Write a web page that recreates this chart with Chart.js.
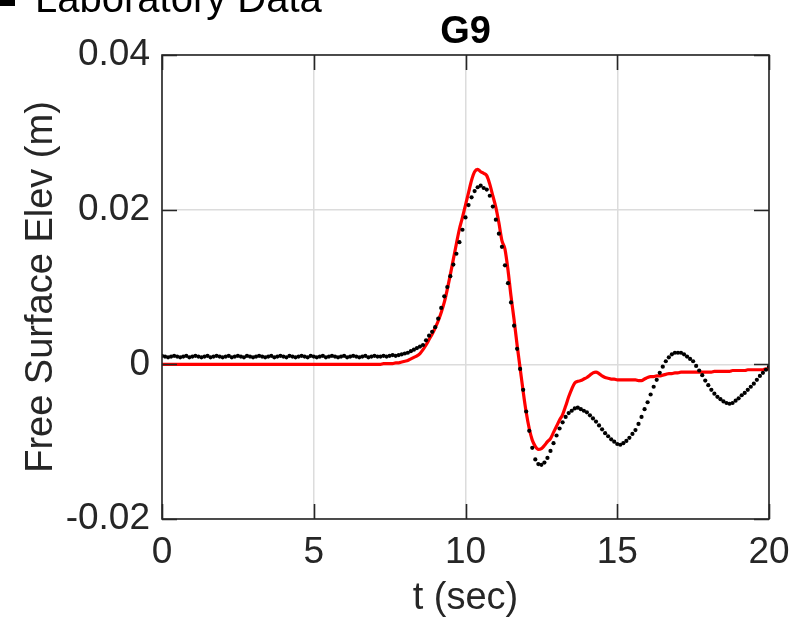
<!DOCTYPE html>
<html>
<head>
<meta charset="utf-8">
<title>G9</title>
<script src="https://cdn.jsdelivr.net/npm/chart.js@4.4.1/dist/chart.umd.min.js"></script>
<style>
  html, body { margin: 0; padding: 0; background: #fff; }
  #wrap { position: relative; width: 794px; height: 626px; }
</style>
</head>
<body>
<div id="wrap"><canvas id="chartG9"></canvas></div>
<script>
// gauge G9 — free surface elevation, 0.1 s sampling
const DT = 0.1;

const xTicks = [0, 5, 10, 15, 20];
const yTicks = [-0.02, 0, 0.02, 0.04];

// laboratory record (black dots)
const labElev = [
  0.0011, 0.0010, 0.0009, 0.0010, 0.0011, 0.0010, 0.0009, 0.0010, 0.0011, 0.0009,
  0.0010, 0.0011, 0.0010, 0.0009, 0.0010, 0.0011, 0.0009, 0.0010, 0.0011, 0.0010,
  0.0009, 0.0010, 0.0011, 0.0009, 0.0010, 0.0011, 0.0010, 0.0009, 0.0011, 0.0010,
  0.0009, 0.0010, 0.0011, 0.0010, 0.0009, 0.0010, 0.0011, 0.0009, 0.0010, 0.0011,
  0.0010, 0.0009, 0.0011, 0.0010, 0.0009, 0.0010, 0.0011, 0.0010, 0.0009, 0.0011,
  0.0010, 0.0009, 0.0010, 0.0011, 0.0009, 0.0010, 0.0011, 0.0010, 0.0009, 0.0010,
  0.0011, 0.0009, 0.0010, 0.0011, 0.0010, 0.0009, 0.0010, 0.0011, 0.0009, 0.0010,
  0.0011, 0.0010, 0.0010, 0.0011, 0.0010, 0.0011, 0.0012, 0.0011, 0.0012, 0.0013,
  0.0014, 0.0015, 0.0017, 0.0019, 0.0021, 0.0023, 0.0025, 0.0031, 0.0037, 0.0042,
  0.0048, 0.0059, 0.0073, 0.0088, 0.0100, 0.0114, 0.0129, 0.0143, 0.0158, 0.0174,
  0.0190, 0.0206, 0.0216, 0.0224, 0.0229, 0.0231, 0.0228, 0.0226, 0.0218, 0.0204,
  0.0187, 0.0169, 0.0152, 0.0128, 0.0105, 0.0080, 0.0050, 0.0020, -0.0006, -0.0033,
  -0.0061, -0.0086, -0.0108, -0.0123, -0.0129, -0.0130, -0.0127, -0.0121, -0.0112, -0.0102,
  -0.0092, -0.0083, -0.0075, -0.0068, -0.0063, -0.0060, -0.0057, -0.0056, -0.0058, -0.0060,
  -0.0062, -0.0066, -0.0070, -0.0074, -0.0079, -0.0084, -0.0089, -0.0093, -0.0097, -0.0100,
  -0.0103, -0.0104, -0.0102, -0.0099, -0.0095, -0.0090, -0.0085, -0.0077, -0.0068, -0.0058,
  -0.0049, -0.0039, -0.0029, -0.0020, -0.0011, -0.0003, 0.0004, 0.0009, 0.0013, 0.0015,
  0.0015, 0.0015, 0.0013, 0.0010, 0.0007, 0.0004, -0.0002, -0.0008, -0.0014, -0.0021,
  -0.0027, -0.0033, -0.0038, -0.0042, -0.0045, -0.0048, -0.0050, -0.0051, -0.0050, -0.0047,
  -0.0044, -0.0040, -0.0037, -0.0033, -0.0029, -0.0025, -0.0020, -0.0015, -0.0011, -0.0007,
  -0.0003
];

// numerical model (red line)
const modelElev = [
  0, 0, 0, 0, 0, 0, 0, 0, 0, 0,
  0, 0, 0, 0, 0, 0, 0, 0, 0, 0,
  0, 0, 0, 0, 0, 0, 0, 0, 0, 0,
  0, 0, 0, 0, 0, 0, 0, 0, 0, 0,
  0, 0, 0, 0, 0, 0, 0, 0, 0, 0,
  0, 0, 0, 0, 0, 0, 0, 0, 0, 0,
  0, 0, 0, 0, 0, 0, 0, 0, 0, 0,
  0.0000, 0.0000, 0.0000, 0.0001, 0.0001, 0.0001, 0.0001, 0.0002, 0.0002, 0.0003,
  0.0004, 0.0005, 0.0007, 0.0009, 0.0011, 0.0014, 0.0019, 0.0025, 0.0032, 0.0039,
  0.0047, 0.0056, 0.0067, 0.0080, 0.0097, 0.0116, 0.0136, 0.0156, 0.0175, 0.0190,
  0.0206, 0.0222, 0.0238, 0.0249, 0.0252, 0.0249, 0.0247, 0.0244, 0.0233, 0.0218,
  0.0203, 0.0183, 0.0160, 0.0149, 0.0122, 0.0088, 0.0058, 0.0025, -0.0005, -0.0035,
  -0.0062, -0.0083, -0.0098, -0.0106, -0.0110, -0.0109, -0.0105, -0.0100, -0.0096, -0.0088,
  -0.0080, -0.0072, -0.0065, -0.0054, -0.0042, -0.0032, -0.0024, -0.0022, -0.0021, -0.0019,
  -0.0017, -0.0014, -0.0011, -0.0010, -0.0012, -0.0015, -0.0017, -0.0018, -0.0019, -0.0019,
  -0.0020, -0.0020, -0.0020, -0.0020, -0.0020, -0.0020, -0.0020, -0.0021, -0.0021, -0.0019,
  -0.0017, -0.0016, -0.0016, -0.0015, -0.0015, -0.0014, -0.0013, -0.0012, -0.0012, -0.0011,
  -0.0011, -0.0010, -0.0010, -0.0010, -0.0010, -0.0010, -0.0010, -0.0010, -0.0010, -0.0010,
  -0.0010, -0.0010, -0.0009, -0.0009, -0.0009, -0.0009, -0.0009, -0.0009, -0.0008, -0.0008,
  -0.0008, -0.0008, -0.0008, -0.0007, -0.0007, -0.0007, -0.0007, -0.0007, -0.0007, -0.0006,
  -0.0006
];

const AXIS_COLOR = '#262626';
const GRID_COLOR = '#dcdcdc';
const FONT = 'Arial, "Liberation Sans", Helvetica, sans-serif';

const toPoints = arr => arr.map((v, i) => ({ x: i * DT, y: v }));

// box around the plot with inward tick marks on all four sides,
// plus the plot title and the legend entry clipped at the top edge
const boxAxes = {
  id: 'boxAxes',
  afterDatasetsDraw(chart) {
    const { ctx, chartArea: a, scales: { x, y } } = chart;
    const tl = 15;
    ctx.save();
    ctx.strokeStyle = AXIS_COLOR;
    ctx.lineWidth = 1.6;
    ctx.beginPath();
    xTicks.forEach(v => {
      const px = Math.round(x.getPixelForValue(v)) + 0.5;
      ctx.moveTo(px, a.bottom); ctx.lineTo(px, a.bottom - tl);
      ctx.moveTo(px, a.top); ctx.lineTo(px, a.top + tl);
    });
    yTicks.forEach(v => {
      const py = Math.round(y.getPixelForValue(v)) + 0.5;
      ctx.moveTo(a.left, py); ctx.lineTo(a.left + tl, py);
      ctx.moveTo(a.right, py); ctx.lineTo(a.right - tl, py);
    });
    ctx.stroke();
    ctx.strokeRect(a.left, a.top, a.right - a.left, a.bottom - a.top);
    ctx.restore();
  },
  afterDraw(chart) {
    const { ctx, chartArea: a } = chart;
    ctx.save();
    ctx.fillStyle = '#000';
    ctx.font = 'bold 38px ' + FONT;
    ctx.textAlign = 'center';
    ctx.textBaseline = 'alphabetic';
    ctx.fillText('G9', (a.left + a.right) / 2, 43);

    ctx.fillRect(0, 0, 15, 6);
    ctx.font = '40px ' + FONT;
    ctx.textAlign = 'left';
    ctx.fillText('Laboratory Data', 35, 12);
    ctx.restore();
  }
};

new Chart(document.getElementById('chartG9'), {
  type: 'scatter',
  data: {
    datasets: [
      {
        label: 'Laboratory Data',
        data: toPoints(labElev),
        showLine: false,
        pointRadius: 2.1,
        pointHoverRadius: 2.1,
        pointBackgroundColor: '#000',
        pointBorderWidth: 0,
        order: 0
      },
      {
        label: 'Model',
        data: toPoints(modelElev),
        showLine: true,
        borderColor: '#ff0000',
        borderWidth: 3.2,
        pointRadius: 0,
        cubicInterpolationMode: 'monotone',
        order: 1
      }
    ]
  },
  plugins: [boxAxes],
  options: {
    responsive: true,
    maintainAspectRatio: false,
    animation: false,
    layout: { padding: { left: 0, right: 25, top: 55, bottom: 0 } },
    scales: {
      x: {
        type: 'linear',
        min: 0,
        max: 20,
        afterBuildTicks: s => { s.ticks = xTicks.map(v => ({ value: v })); },
        afterFit: s => { s.height = 107; s.paddingLeft = 0; s.paddingRight = 0; },
        border: { display: false },
        grid: { color: GRID_COLOR, lineWidth: 1.5, drawTicks: false },
        ticks: {
          color: AXIS_COLOR,
          padding: 12,
          maxRotation: 0,
          font: { family: FONT, size: 37 },
          callback: v => String(v)
        },
        title: {
          display: true,
          text: 't (sec)',
          color: AXIS_COLOR,
          font: { family: FONT, size: 38 },
          padding: { top: 0, bottom: 5 }
        }
      },
      y: {
        type: 'linear',
        min: -0.02,
        max: 0.04,
        afterBuildTicks: s => { s.ticks = yTicks.map(v => ({ value: v })); },
        afterFit: s => { s.width = 162; s.paddingTop = 0; s.paddingBottom = 0; },
        border: { display: false },
        grid: { color: GRID_COLOR, lineWidth: 1.5, drawTicks: false },
        ticks: {
          color: AXIS_COLOR,
          padding: 12,
          font: { family: FONT, size: 37 },
          callback: v => String(v)
        },
        title: {
          display: true,
          text: 'Free Surface Elev (m)',
          color: AXIS_COLOR,
          font: { family: FONT, size: 38 },
          padding: { top: 19, bottom: 0 }
        }
      }
    },
    plugins: {
      legend: { display: false },
      tooltip: { enabled: false },
      title: { display: false }
    }
  }
});
</script>
</body>
</html>
